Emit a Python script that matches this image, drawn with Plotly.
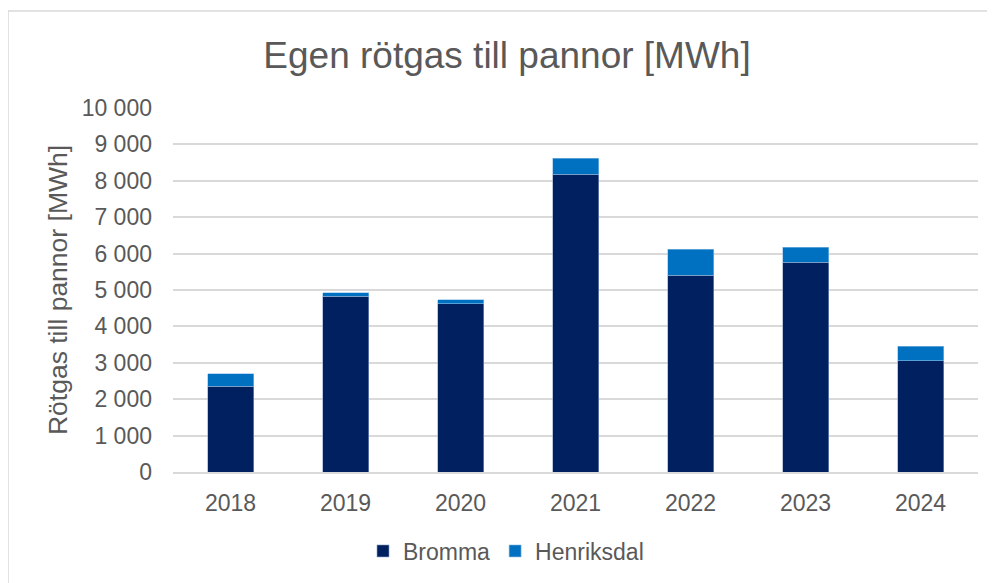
import plotly.graph_objects as go

years = ["2018", "2019", "2020", "2021", "2022", "2023", "2024"]
bromma = [2350, 4830, 4620, 8180, 5400, 5760, 3060]
henriksdal = [350, 90, 110, 440, 720, 420, 400]
y_ticks = [0, 1000, 2000, 3000, 4000, 5000, 6000, 7000, 8000, 9000, 10000]

OFF = 8  # page body margin
W, H = 995 - OFF, 583 - OFF
L, T = 173 - OFF, 108 - OFF
R = OFF + W - 978
B = OFF + H - 472
pw, ph = W - L - R, H - T - B


def px_x(x):
    return (x - OFF - L) / pw


def px_y(y):
    return 1 - (y - OFF - T) / ph


fig = go.Figure()
fig.add_trace(go.Bar(name="Bromma", x=years, y=bromma,
                     marker=dict(color="#002060", line=dict(color="#8FA3C8", width=0.6))))
fig.add_trace(go.Bar(name="Henriksdal", x=years, y=henriksdal,
                     marker=dict(color="#0070C0", line=dict(color="#8FBFE8", width=0.6))))

fig.update_layout(
    width=W, height=H,
    barmode="stack", bargap=0.6,
    separators=", ",
    paper_bgcolor="white", plot_bgcolor="white",
    margin=dict(l=L, r=R, t=T, b=B, autoexpand=False),
    font=dict(family="Liberation Sans, Arial, sans-serif", color="#595959", size=23),
    title=dict(text="Egen rötgas till pannor [MWh]", x=(507 - OFF) / W, xanchor="center",
               y=1 - (55 - OFF) / H, yanchor="middle", font=dict(size=37, color="#595959")),
    xaxis=dict(showgrid=False, showline=True, linecolor="#D9D9D9", linewidth=1.5,
               ticks="", ticklabelstandoff=10, tickfont=dict(size=23, color="#595959")),
    yaxis=dict(range=[0, 10000], tickvals=y_ticks, tickformat=",d", showgrid=True,
               gridcolor="#D9D9D9", gridwidth=1.5, zeroline=False, ticks="",
               ticklabelstandoff=20, tickfont=dict(size=23, color="#595959"),
               title=dict(text="Rötgas till pannor [MWh]", font=dict(size=26.5, color="#595959"), standoff=6)),
    legend=dict(orientation="h", x=px_x(506), xanchor="center",
                y=px_y(551), yanchor="middle", font=dict(size=23, color="#595959"),
                itemwidth=30, traceorder="normal"),
    shapes=[dict(type="rect", xref="paper", yref="paper",
                 x0=px_x(8), x1=px_x(1010),
                 y0=px_y(600), y1=px_y(11),
                 line=dict(color="#D9D9D9", width=1.5), fillcolor="rgba(0,0,0,0)", layer="below")],
)

fig.write_html("out.html")
